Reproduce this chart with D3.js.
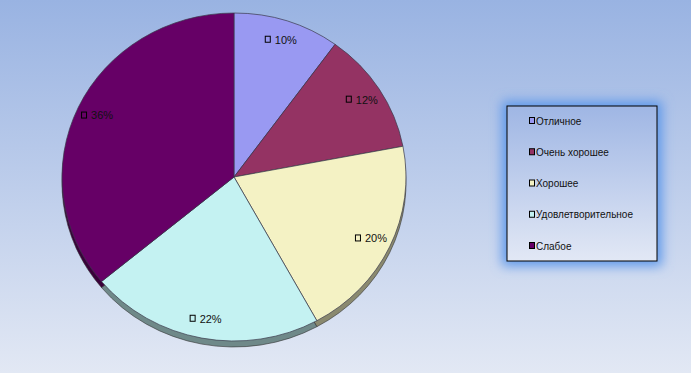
<!DOCTYPE html>
<html>
<head>
<meta charset="utf-8">
<script src="https://cdn.jsdelivr.net/npm/d3@7"></script>
<style>
  html, body { margin: 0; padding: 0; overflow: hidden; }
  svg { display: block; font-family: "Liberation Sans", Arial, sans-serif; }
</style>
</head>
<body>
<svg id="chart" width="691" height="373"></svg>
<script>
// chart data
var categories = ["Отличное", "Очень хорошее", "Хорошее", "Удовлетворительное", "Слабое"];
var values = [10, 12, 20, 22, 36];
var labels = ["10%", "12%", "20%", "22%", "36%"];
var colors = ["#9999f2", "#943363", "#f4f2c4", "#c4f2f2", "#660066"];

var width = 691, height = 373;
var cx = 234, cy = 177, rx = 172, ry = 164, depth = 6;

var svg = d3.select("#chart");
var defs = svg.append("defs");

var bg = defs.append("linearGradient").attr("id", "bg")
    .attr("x1", 0).attr("y1", 0).attr("x2", 0).attr("y2", 1);
bg.append("stop").attr("offset", "0%").attr("stop-color", "#99b3e2");
bg.append("stop").attr("offset", "100%").attr("stop-color", "#e2e8f4");

var lg = defs.append("linearGradient").attr("id", "legbg")
    .attr("x1", 0).attr("y1", 0).attr("x2", 0).attr("y2", 1);
lg.append("stop").attr("offset", "0%").attr("stop-color", "#9fb6e4");
lg.append("stop").attr("offset", "100%").attr("stop-color", "#e2e8f5");

defs.append("filter").attr("id", "glow")
    .attr("x", "-30%").attr("y", "-30%").attr("width", "160%").attr("height", "160%")
  .append("feGaussianBlur").attr("stdDeviation", 6);

svg.append("rect").attr("width", width).attr("height", height).attr("fill", "url(#bg)");

var pie = d3.pie().sort(null).value(function(d) { return d; });
var arcs = pie(values);
var arc = d3.arc().innerRadius(0).outerRadius(rx);
var labelArc = d3.arc().innerRadius(rx * 0.88).outerRadius(rx * 0.88);
var sy = ry / rx;

// side of the 3d pie, drawn as a shifted darker copy
var sideG = svg.append("g")
    .attr("transform", "translate(" + cx + "," + (cy + depth) + ") scale(1," + sy + ")");
sideG.selectAll("path")
    .data(arcs)
    .enter().append("path")
    .attr("d", arc)
    .attr("fill", function(d, i) { return d3.color(colors[i]).darker(1.6); })
    .attr("stroke", "#333")
    .attr("stroke-width", 0.6)
    .attr("vector-effect", "non-scaling-stroke");

var faceG = svg.append("g")
    .attr("transform", "translate(" + cx + "," + cy + ") scale(1," + sy + ")");
faceG.selectAll("path")
    .data(arcs)
    .enter().append("path")
    .attr("d", arc)
    .attr("fill", function(d, i) { return colors[i]; })
    .attr("stroke", "#3a3a4a")
    .attr("stroke-width", 0.7)
    .attr("vector-effect", "non-scaling-stroke");

// data labels
var lab = svg.selectAll("g.lab")
    .data(arcs)
    .enter().append("g")
    .attr("class", "lab")
    .attr("transform", function(d) {
        var c = labelArc.centroid(d);
        return "translate(" + (cx + c[0]) + "," + (cy + c[1] * sy) + ")";
    });
lab.append("rect")
    .attr("x", -15.5).attr("y", -3.5)
    .attr("width", 5).attr("height", 6)
    .attr("fill", "none")
    .attr("stroke", "#000")
    .attr("stroke-width", 1);
lab.append("text")
    .attr("x", -6)
    .attr("dy", "0.35em")
    .attr("font-size", "11px")
    .attr("fill", "#111")
    .text(function(d, i) { return labels[i]; });

// legend
var legX = 507, legY = 106, legW = 150, legH = 155;
svg.append("rect")
    .attr("x", legX - 5).attr("y", legY - 5)
    .attr("width", legW + 10).attr("height", legH + 10)
    .attr("fill", "#5f98ea")
    .attr("filter", "url(#glow)");
svg.append("rect")
    .attr("x", legX).attr("y", legY)
    .attr("width", legW).attr("height", legH)
    .attr("fill", "url(#legbg)")
    .attr("stroke", "#000")
    .attr("stroke-width", 1);

var ly = d3.scalePoint().domain(categories).range([121, 246]);
var item = svg.selectAll("g.leg")
    .data(categories)
    .enter().append("g")
    .attr("class", "leg")
    .attr("transform", function(d) { return "translate(" + 529 + "," + ly(d) + ")"; });
item.append("rect")
    .attr("x", 0.5).attr("y", -3.5)
    .attr("width", 5).attr("height", 6)
    .attr("fill", function(d, i) { return colors[i]; })
    .attr("stroke", "#000")
    .attr("stroke-width", 1);
item.append("text")
    .attr("x", 7)
    .attr("dy", "0.35em")
    .attr("font-size", "10px")
    .attr("fill", "#111")
    .text(function(d) { return d; });
</script>
</body>
</html>
